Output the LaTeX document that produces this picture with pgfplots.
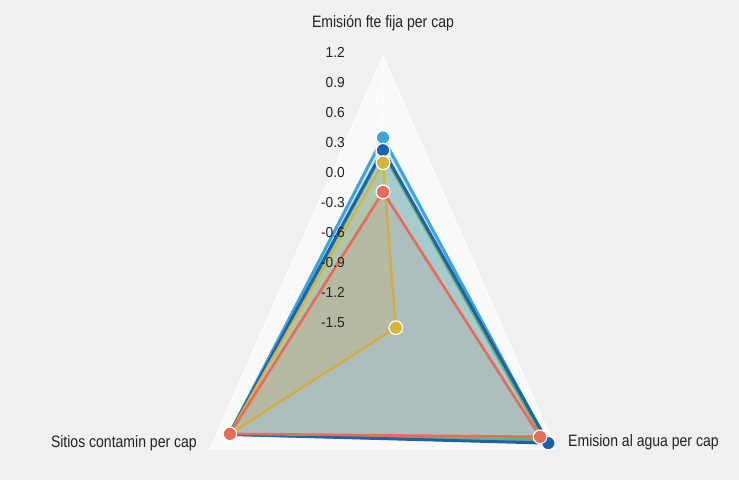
\documentclass[border=0pt]{standalone}
\usepackage{pgfplots}
\pgfplotsset{compat=1.18}
\usepackage{pgfplotstable}
\usepackage{fontspec}
\setmainfont{Liberation Sans}[FakeStretch=0.85]
\newfontfamily\tickfont{Liberation Sans}[FakeStretch=0.95]

\definecolor{bg}{RGB}{240,240,240}
\definecolor{txt}{RGB}{34,34,34}
\definecolor{cLight}{RGB}{60,165,220}
\definecolor{cDark}{RGB}{28,98,172}
\definecolor{cGreen}{RGB}{120,185,110}
\definecolor{cYellow}{RGB}{212,180,56}
\definecolor{cRed}{RGB}{234,106,90}

% a = direction of the spoke (deg), v = value; the centre of the web is -1.5
\pgfplotstableread[row sep=\\]{a v\\ 90 0.36\\ 330 1.06\\ 210 0.90\\ 90 0.36\\}\sLight
\pgfplotstableread[row sep=\\]{a v\\ 90 0.23\\ 330 1.08\\ 210 0.90\\ 90 0.23\\}\sDark
\pgfplotstableread[row sep=\\]{a v\\ 90 0.20\\ 330 1.01\\ 210 0.90\\ 90 0.20\\}\sGreen
\pgfplotstableread[row sep=\\]{a v\\ 90 0.10\\ 330 -1.30\\ 210 0.90\\ 90 0.10\\}\sYellow
\pgfplotstableread[row sep=\\]{a v\\ 90 -0.20\\ 330 0.95\\ 210 0.89\\ 90 -0.20\\}\sRed

\pgfplotsset{
  table/radar/.style={
    x expr={cos(\thisrow{a})*(\thisrow{v}+1.5)},
    y expr={sin(\thisrow{a})*(\thisrow{v}+1.5)}},
  series/.style={draw=#1, fill=#1, fill opacity=0.2, line width=2.6bp, line join=round,
    mark=*, mark size=6.8bp,
    mark options={fill=#1, draw=white, line width=1.2bp, fill opacity=1, draw opacity=1}},
}

\begin{document}
\begin{tikzpicture}
\useasboundingbox (0,0) rectangle (739bp,480bp);
\fill[bg] (0,0) rectangle (739bp,480bp);
\begin{axis}[
  at={(383bp,162bp)}, anchor=center,
  x=74bp, y=97bp,
  xmin=-1, xmax=1, ymin=-1, ymax=1,
  hide axis, clip=false,
]
% web
\addplot[fill=white, fill opacity=0.6, draw=none, forget plot]
  table[radar, row sep=\\] {a v\\ 90 1.2\\ 330 1.2\\ 210 1.2\\ 90 1.2\\};
\pgfplotsinvokeforeach{-1.2,-0.9,-0.6,-0.3,0.0,0.3,0.6,0.9,1.2}{
  \addplot[draw=white, line width=0.8bp, forget plot]
    table[radar, row sep=\\] {a v\\ 90 #1\\ 330 #1\\ 210 #1\\ 90 #1\\};
}
\addplot[draw=white, line width=0.8bp, forget plot]
  table[radar, row sep=\\] {a v\\ 90 1.2\\ 90 -1.5\\ 330 1.2\\};
\addplot[draw=white, line width=0.8bp, forget plot]
  table[radar, row sep=\\] {a v\\ 90 -1.5\\ 210 1.2\\};

% series
\addplot[series=cLight, line width=3bp, fill opacity=0.25] table[radar] {\sLight};
\addplot[series=cGreen, fill opacity=0.24] table[radar] {\sGreen};
\addplot[series=cDark, line width=3bp, fill opacity=0.1] table[radar] {\sDark};
\addplot[series=cYellow, line width=2.2bp, fill opacity=0.22] table[radar] {\sYellow};
\addplot[series=cRed, fill opacity=0.13] table[radar] {\sRed};

% radial tick labels
\pgfplotsinvokeforeach{1.2,0.9,0.6,0.3,0.0,-0.3,-0.6,-0.9,-1.2,-1.5}{
  \node[anchor=east, xshift=-38bp, inner sep=0, text=txt,
        font=\tickfont\fontsize{14.5bp}{16bp}\selectfont]
    at (axis cs:0,{(#1)*100/97+1.5}) {#1};
}

% spoke names
\node[anchor=base, yshift=29bp, inner sep=0, text=txt,
      font=\fontsize{16.5bp}{18bp}\selectfont] at (axis cs:0,2.7) {Emisión fte fija per cap};
\node[anchor=base west, xshift=12bp, yshift=2bp, inner sep=0, text=txt,
      font=\fontsize{16.5bp}{18bp}\selectfont] at (axis cs:2.338,-1.35) {Emision al agua per cap};
\node[anchor=base east, xshift=-13bp, yshift=1bp, inner sep=0, text=txt,
      font=\fontsize{16.5bp}{18bp}\selectfont] at (axis cs:-2.338,-1.35) {Sitios contamin per cap};
\end{axis}
\end{tikzpicture}
\end{document}
